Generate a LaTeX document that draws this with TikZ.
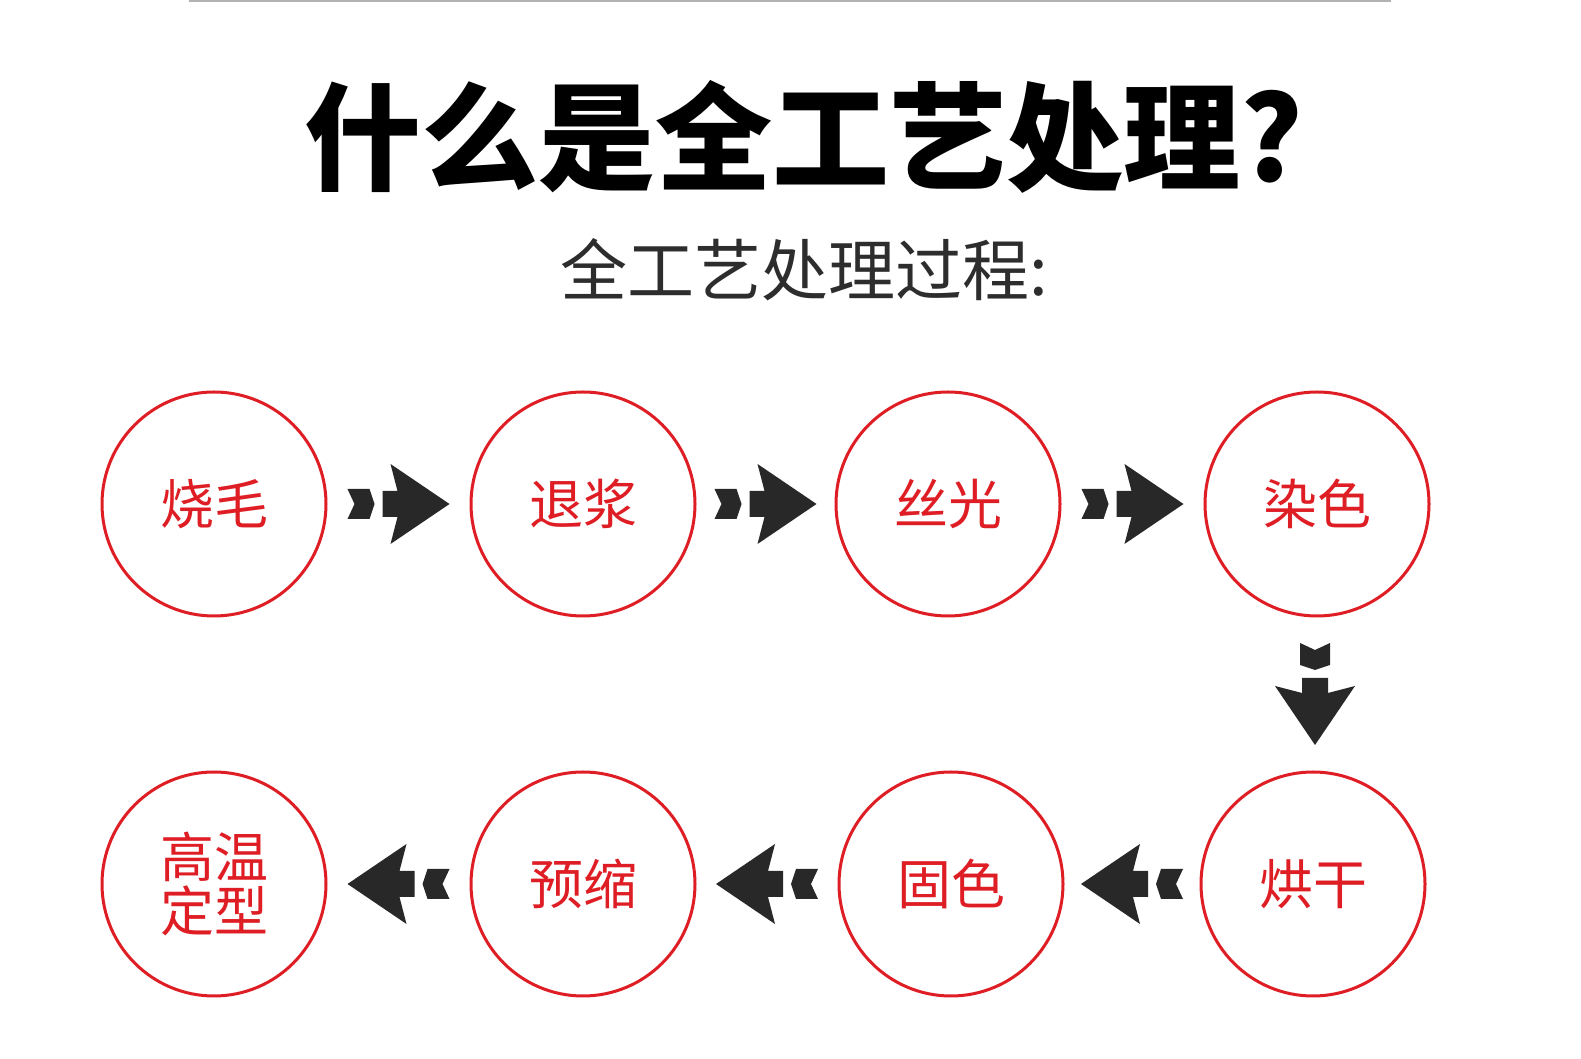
\documentclass[tikz,border=0pt]{standalone}
\usepackage{fontspec}
\newfontfamily\cjk{Noto Sans CJK SC}
\usetikzlibrary{calc}
\definecolor{cred}{RGB}{222,30,36}
\definecolor{adark}{RGB}{40,40,40}
\definecolor{subgray}{RGB}{45,45,45}
\begin{document}
\begin{tikzpicture}[x=1pt,y=1pt,
 stepcircle/.style={circle, draw=cred, line width=3pt, minimum size=224pt, inner sep=0pt,
   text=cred, font=\cjk\fontsize{54}{54}\selectfont, align=center},
 arrowshape/.pic={
   \fill[adark] (-51,15)--(-29,15)--(-24,0)--(-29,-15)--(-51,-15)--(-44,0)--cycle;
   \fill[adark] (-16,13)--(-1,13)--(-8,40)--(51,0)--(-8,-40)--(-1,-13)--(-16,-13)--cycle;}
]
\useasboundingbox (0,0) rectangle (1581,1059);
\fill[white] (0,0) rectangle (1581,1059);
\draw[black!30, line width=3pt] (189,1058) -- (1391,1058);

\node[font=\cjk\bfseries\fontsize{117}{124}\selectfont, text=black] (title) at (804,922) {什么是全工艺处理?};
\node[font=\cjk\fontsize{67}{70}\selectfont, text=subgray] (sub) at (804,789) {全工艺处理过程:};

\node[stepcircle] (s1) at (214,555) {烧毛};
\node[stepcircle] (s2) at (583,555) {退浆};
\node[stepcircle] (s3) at (948,555) {丝光};
\node[stepcircle] (s4) at (1317,555) {染色};
\node[stepcircle] (s5) at (1313,175) {烘干};
\node[stepcircle] (s6) at (951,175) {固色};
\node[stepcircle] (s7) at (583,175) {预缩};
\node[stepcircle] (s8) at (214,175) {高温\\定型};

\pic at ($(s1)!0.5!(s2)$) {arrowshape};
\pic at ($(s2)!0.5!(s3)$) {arrowshape};
\pic at ($(s3)!0.5!(s4)$) {arrowshape};
\pic[rotate=-90] at ($(s4)!0.5!(s5)$) {arrowshape};
\pic[rotate=180] at ($(s5)!0.5!(s6)$) {arrowshape};
\pic[rotate=180] at ($(s6)!0.5!(s7)$) {arrowshape};
\pic[rotate=180] at ($(s7)!0.5!(s8)$) {arrowshape};
\end{tikzpicture}
\end{document}
